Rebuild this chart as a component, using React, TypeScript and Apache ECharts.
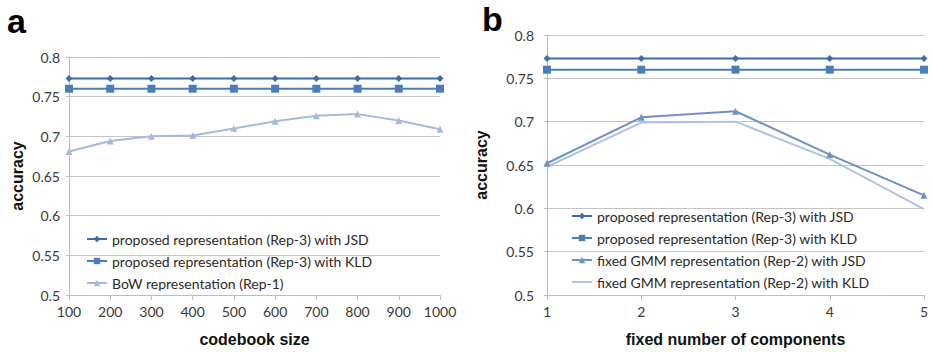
import React, { useEffect, useRef } from "react";
import * as echarts from "echarts";

// Panel a: accuracy against codebook size
const codebookSizes = ["100", "200", "300", "400", "500", "600", "700", "800", "900", "1000"];
const rep3JsdA = [0.773, 0.773, 0.773, 0.773, 0.773, 0.773, 0.773, 0.773, 0.773, 0.773];
const rep3KldA = [0.76, 0.76, 0.76, 0.76, 0.76, 0.76, 0.76, 0.76, 0.76, 0.76];
const bowRep1 = [0.681, 0.694, 0.7, 0.701, 0.71, 0.719, 0.726, 0.728, 0.72, 0.709];

// Panel b: accuracy against fixed number of GMM components
const componentCounts = ["1", "2", "3", "4", "5"];
const rep3JsdB = [0.773, 0.773, 0.773, 0.773, 0.773];
const rep3KldB = [0.76, 0.76, 0.76, 0.76, 0.76];
const gmmJsd = [0.652, 0.705, 0.712, 0.662, 0.615];
const gmmKld = [0.648, 0.699, 0.7, 0.657, 0.599];

const yTicks = { min: 0.5, max: 0.8, interval: 0.05 };

const C_JSD = "#3D6CA8";
const C_KLD = "#4A7EBB";
const C_BOW = "#A6BADB";
const C_GMM_JSD = "#6E92C6";
const C_GMM_KLD = "#B0C3E0";

const TICK_FONT = "Lato, 'Open Sans', sans-serif";
const TITLE_FONT = "'Liberation Sans', Arial, sans-serif";

function yAxis(gridIndex: number, nameGap: number, labelMargin: number) {
  return {
    type: "value",
    gridIndex,
    min: yTicks.min,
    max: yTicks.max,
    interval: yTicks.interval,
    name: "accuracy",
    nameLocation: "middle",
    nameGap,
    nameTextStyle: { fontFamily: TITLE_FONT, fontWeight: "bold", fontSize: 16, color: "#111" },
    axisLine: { show: true, lineStyle: { color: "#BDBDBD", width: 1 } },
    axisTick: { show: true, length: 3, lineStyle: { color: "#BDBDBD" } },
    splitLine: { show: true, lineStyle: { color: "#C4C4C4", width: 1 } },
    axisLabel: {
      margin: labelMargin,
      fontFamily: TICK_FONT,
      fontSize: 14,
      color: "#3A3A3A",
      formatter: (v: number) => String(+v.toFixed(2)),
    },
  };
}

function xAxis(gridIndex: number, data: string[], name: string) {
  return {
    type: "category",
    gridIndex,
    data,
    boundaryGap: false,
    name,
    nameLocation: "middle",
    nameGap: 36,
    nameTextStyle: { fontFamily: TITLE_FONT, fontWeight: "bold", fontSize: 16, color: "#111" },
    axisLine: { show: true, lineStyle: { color: "#BDBDBD", width: 1 } },
    axisTick: { show: true, length: 5, alignWithLabel: true, lineStyle: { color: "#BDBDBD" } },
    splitLine: { show: false },
    axisLabel: {
      margin: 9,
      fontFamily: TICK_FONT,
      fontSize: 14,
      color: "#3A3A3A",
      interval: 0,
    },
  };
}

function lineSeries(
  name: string,
  data: number[],
  color: string,
  symbol: string,
  symbolSize: number,
  axisIndex: number
) {
  return {
    type: "line",
    name,
    data,
    xAxisIndex: axisIndex,
    yAxisIndex: axisIndex,
    color,
    symbol,
    symbolSize,
    showSymbol: symbol !== "none",
    lineStyle: { color, width: 2 },
    itemStyle: { color, borderWidth: 0 },
    emphasis: { disabled: true },
  };
}

const JSD3 = "proposed representation (Rep-3) with JSD";
const KLD3 = "proposed representation (Rep-3) with KLD";
const BOW = "BoW representation (Rep-1)";
const GMMJ = "fixed GMM representation (Rep-2) with JSD";
const GMMK = "fixed GMM representation (Rep-2) with KLD";

export default function App() {
  const ref = useRef<HTMLDivElement>(null);

  useEffect(() => {
    if (!ref.current) return;
    const chart = echarts.init(ref.current, undefined, { renderer: "svg" });
    const legendText = { fontFamily: TICK_FONT, fontSize: 14, color: "#2A2A2A" };
    const legendBase = {
      orient: "vertical",
      padding: 0,
      itemWidth: 20,
      itemHeight: 8,
      textStyle: legendText,
      selectedMode: false,
    };
    chart.setOption({
      animation: false,
      backgroundColor: "#FFFFFF",
      grid: [
        { left: 69, top: 57, width: 371, height: 239 },
        { left: 547, top: 35, width: 377, height: 262 },
      ],
      xAxis: [
        xAxis(0, codebookSizes, "codebook size"),
        xAxis(1, componentCounts, "fixed number of components"),
      ],
      yAxis: [yAxis(0, 44, 9), yAxis(1, 58, 13)],
      legend: [
        {
          ...legendBase,
          data: [JSD3, KLD3, BOW],
          left: 86,
          top: 232,
          itemGap: 8,
        },
        {
          ...legendBase,
          data: [
            JSD3,
            KLD3,
            GMMJ,
            // this series is drawn without point markers, so its key is a bare line
            { name: GMMK, itemStyle: { color: "rgba(0,0,0,0)", borderWidth: 0 } },
          ],
          left: 571,
          top: 209,
          itemGap: 8,
        },
      ],
      graphic: [
        {
          type: "text",
          left: 7,
          top: 4,
          style: {
            text: "a",
            fontFamily: TITLE_FONT,
            fontWeight: "bold",
            fontSize: 34,
            lineHeight: 34,
            fill: "#000",
          },
        },
        {
          type: "text",
          left: 482,
          top: 2,
          style: {
            text: "b",
            fontFamily: TITLE_FONT,
            fontWeight: "bold",
            fontSize: 34,
            lineHeight: 34,
            fill: "#000",
          },
        },
      ],
      series: [
        lineSeries(JSD3, rep3JsdA, C_JSD, "diamond", 7, 0),
        lineSeries(KLD3, rep3KldA, C_KLD, "rect", 8, 0),
        lineSeries(BOW, bowRep1, C_BOW, "triangle", 7, 0),
        lineSeries(JSD3, rep3JsdB, C_JSD, "diamond", 7, 1),
        lineSeries(KLD3, rep3KldB, C_KLD, "rect", 8, 1),
        lineSeries(GMMJ, gmmJsd, C_GMM_JSD, "triangle", 7, 1),
        lineSeries(GMMK, gmmKld, C_GMM_KLD, "none", 0, 1),
      ],
    });
    return () => chart.dispose();
  }, []);

  return (
    <div
      ref={ref}
      style={{ position: "fixed", left: 0, top: 0, width: 932, height: 352 }}
    />
  );
}
